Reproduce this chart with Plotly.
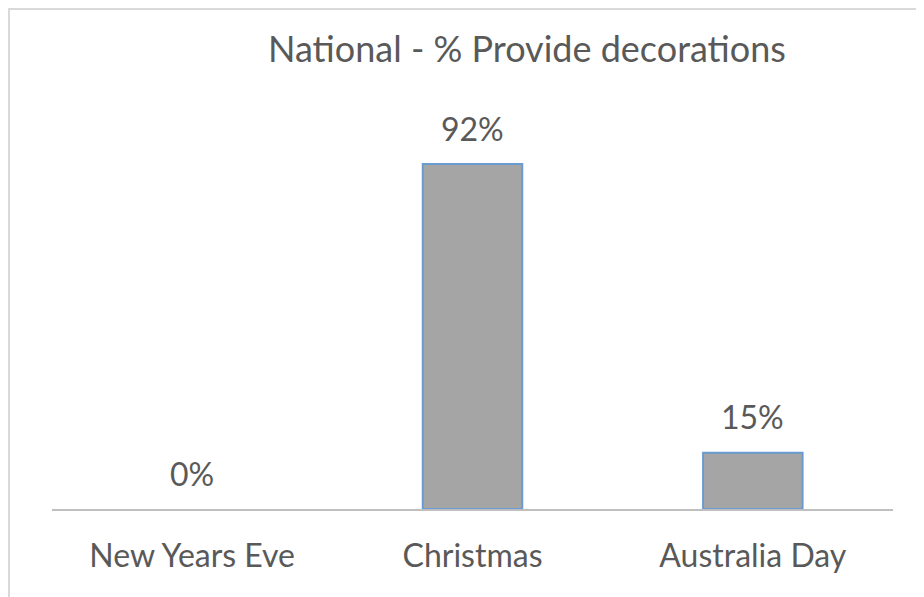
import plotly.graph_objects as go

categories = ["New Years Eve", "Christmas", "Australia Day"]
values = [0, 92, 15]
labels = ["0%", "92%", "15%"]
title_text = "National - % Provide decorations"

# page has an 8px body margin; figure is placed at (8, 8)
OFF = 8
W, H = 924 - OFF, 597 - OFF
L, T = 52 - OFF, 134 - OFF
R, B = 924 - 893, 597 - 509
FONT = "Lato"
TXT = "#595959"

plot_w = W - L - R
plot_h = H - T - B

fig = go.Figure()
fig.add_trace(go.Bar(
    x=categories, y=values, width=0.355,
    marker=dict(color="#A5A5A5",
                line=dict(color="#6A9BD0", width=[0 if v == 0 else 2 for v in values])),
    hoverinfo="skip",
))

for c, v, t in zip(categories, values, labels):
    fig.add_annotation(x=c, y=v, text=t, showarrow=False, yanchor="middle",
                       yshift=36, font=dict(family=FONT, size=32, color=TXT))

fig.add_annotation(xref="paper", yref="paper", x=(527 - 52) / plot_w,
                   y=(509 - 48) / plot_h, text=title_text, showarrow=False,
                   xanchor="center", yanchor="middle",
                   font=dict(family=FONT, size=36, color=TXT))

fig.add_shape(type="rect", xref="paper", yref="paper",
              x0=(1 - L) / plot_w, x1=(W + 20 - L) / plot_w,
              y0=(H - B - (H + 20)) / plot_h, y1=(H - B - 1) / plot_h,
              line=dict(color="#D9D9D9", width=2), fillcolor="rgba(0,0,0,0)", layer="below")

fig.update_layout(
    width=W, height=H,
    margin=dict(l=L, r=R, t=T, b=B),
    paper_bgcolor="white", plot_bgcolor="white",
    showlegend=False,
    xaxis=dict(showline=True, linecolor="#BFBFBF", linewidth=2, ticks="",
               tickfont=dict(family=FONT, size=32, color=TXT), showgrid=False,
               ticklabelstandoff=18),
    yaxis=dict(range=[0, 100], visible=False, showgrid=False, zeroline=False),
)

fig.write_html("out.html")
